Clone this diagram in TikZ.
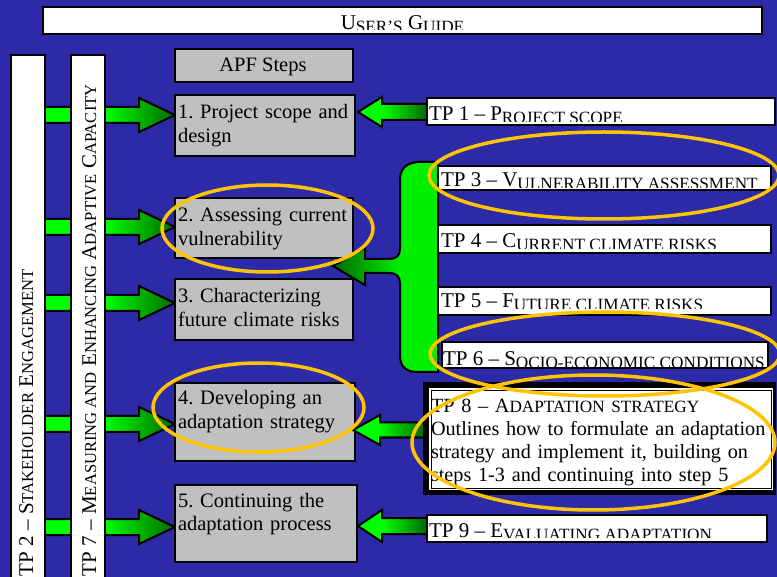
\documentclass[tikz,border=0pt]{standalone}
\usepackage{fontspec}
\setmainfont{Liberation Serif}
\definecolor{bg}{RGB}{44,42,166}
\definecolor{boxgray}{RGB}{192,192,192}
\definecolor{brightg}{RGB}{0,255,0}
\definecolor{bracketg}{RGB}{0,238,0}
\definecolor{darkg}{RGB}{0,105,0}
\definecolor{hlyellow}{RGB}{255,196,0}
\pgfdeclarehorizontalshading{larr}{100bp}{color(0bp)=(brightg); color(48bp)=(brightg); color(75bp)=(darkg); color(100bp)=(darkg)}
\pgfdeclarehorizontalshading{rarr}{100bp}{color(0bp)=(brightg); color(43bp)=(brightg); color(75bp)=(darkg); color(100bp)=(darkg)}
\pgfdeclarehorizontalshading{brk}{100bp}{color(0bp)=(darkg); color(25bp)=(darkg); color(57bp)=(bracketg); color(100bp)=(bracketg)}
\newcommand\smc[1]{{\fontsize{16.6}{20}\selectfont #1}}
\newcommand\smcb[1]{{\fontsize{17.2}{20}\selectfont #1}}
\newcommand\smcl[1]{\raisebox{-3pt}{\fontsize{17.2}{20}\selectfont #1}}
\newcommand\myLA[1]{\shadedraw[shading=larr, outl] (44,#1-8) -- (139,#1-8) -- (139,#1-17) -- (175,#1) -- (139,#1+17) -- (139,#1+8) -- (44,#1+8) -- cycle;}
\newcommand\myRA[6]{\shadedraw[shading=rarr, outl] (#1,#2) -- (#3,#2-#5) -- (#3,#2-#6) -- (#4,#2-#6) -- (#4,#2+#6) -- (#3,#2+#6) -- (#3,#2+#5) -- cycle;}
\begin{document}
\frenchspacing
\begin{tikzpicture}[x=1pt,y=-1pt,
  txt/.style={font=\fontsize{20.5}{24}\selectfont, inner sep=0pt, outer sep=0pt, text=black},
  bartxt/.style={font=\fontsize{21}{24}\selectfont, inner sep=0pt, outer sep=0pt, text=black},
  stepbox/.style={draw=black, line width=2pt, fill=boxgray, inner sep=0pt, outer sep=0pt},
  whitebox/.style={draw=black, line width=2pt, fill=white, inner sep=0pt, outer sep=0pt},
  outl/.style={draw=black, line width=2pt, line join=miter},
  hl/.style={draw=hlyellow, line width=3.5pt}]
\clip (0,0) rectangle (777,577);
\fill[bg] (0,0) rectangle (777,577);
% left arrows
\myLA{115}
\myLA{227}
\myLA{303}
\myLA{424}
\myLA{527}
% vertical bars
\node[whitebox, minimum width=34pt, minimum height=545pt] (bar2) at (28,327.5) {};
\node[whitebox, minimum width=34pt, minimum height=545pt] (bar7) at (88,327.5) {};
\node[bartxt, anchor=base west, rotate=90] (bar2t) at (33,576) {TP 2 – S\smc{TAKEHOLDER} E\smc{NGAGEMENT}};
\node[bartxt, anchor=base west, rotate=90] (bar7t) at (96,576) {TP 7 – M\smc{EASURING AND} E\smc{NHANCING} A\smc{DAPTIVE} C\smc{APACITY}};
% title
\node[whitebox, minimum width=719pt, minimum height=27pt] (title) at (402.5,20.5) {};
\begin{scope}
\clip (44,8) rectangle (761,30);
\node[bartxt, anchor=base] (titlet) at (402.5,29.5) {U\smcl{SER’S} G\smcl{UIDE}};
\end{scope}
% APF steps
\node[stepbox, minimum width=178pt, minimum height=33pt] (apf) at (264,65.5) {};
\node[txt, anchor=base] (apft) at (263,72) {APF Steps};
\node[stepbox, minimum width=180pt, minimum height=61pt] (s1) at (265,125.5) {};
\node[stepbox, minimum width=178pt, minimum height=60pt] (s2) at (264,228) {};
\node[stepbox, minimum width=178pt, minimum height=61pt] (s3) at (264,309.5) {};
\node[stepbox, minimum width=180pt, minimum height=78pt] (s4) at (265,422) {};
\node[stepbox, minimum width=182pt, minimum height=77pt] (s5) at (266,523.5) {};
\node[txt, anchor=base west, text width=190pt, align=left] (s1t) at (178,119) {1. Project scope and\\design};
\node[txt, anchor=base west, text width=190pt, align=left] (s2t) at (178,222) {2. Assessing current\\vulnerability};
\node[txt, anchor=base west, text width=190pt, align=left] (s3t) at (178,303) {3. Characterizing\\future climate risks};
\node[txt, anchor=base west, text width=190pt, align=left] (s4t) at (178,405) {4. Developing an\\adaptation strategy};
\node[txt, anchor=base west, text width=190pt, align=left] (s5t) at (178,507) {5. Continuing the\\adaptation process};
% right arrows
\myRA{358}{112}{382}{427}{15}{8}
\myRA{353}{430}{380}{424}{15}{7.5}
\myRA{358}{526}{382}{427}{16}{8}
% bracket arrow
\shadedraw[shading=brk, outl] (438,162) -- (418,162) .. controls (405,163) and (400,170) .. (400,180)
  -- (400,249) .. controls (400,256) and (396,259) .. (389,259) -- (365,259) -- (365,248) -- (333,266)
  -- (365,285) -- (365,273) -- (389,273) .. controls (396,273) and (400,276) .. (400,283)
  -- (400,355) .. controls (400,366) and (405,372) .. (418,372) -- (438,372) -- cycle;
% TP boxes
\node[whitebox, minimum width=348pt, minimum height=27pt] (tp1) at (601,111.5) {};
\node[whitebox, minimum width=333pt, minimum height=24pt] (tp3) at (604.5,178) {};
\node[whitebox, minimum width=333pt, minimum height=28pt] (tp4) at (604.5,239) {};
\node[whitebox, minimum width=333pt, minimum height=28pt] (tp5) at (604.5,301) {};
\node[whitebox, minimum width=326pt, minimum height=26pt] (tp6) at (605,355) {};
\node[whitebox, minimum width=340pt, minimum height=27pt] (tp9) at (597,528.5) {};
\begin{scope}
\clip (428,99) rectangle (774,121.5);
\node[bartxt, anchor=base west] (tp1t) at (429,121) {TP 1 – P\smcl{ROJECT SCOPE}};
\end{scope}
\begin{scope}
\clip (439,167) rectangle (770,187.5);
\node[bartxt, anchor=base west] (tp3t) at (441,187) {TP 3 – V\smcl{ULNERABILITY ASSESSMENT}};
\end{scope}
\begin{scope}
\clip (439,226) rectangle (770,248.5);
\node[bartxt, anchor=base west] (tp4t) at (441,248) {TP 4 – C\smcl{URRENT CLIMATE RISKS}};
\end{scope}
\begin{scope}
\clip (439,288) rectangle (770,308.5);
\node[bartxt, anchor=base west] (tp5t) at (441,308) {TP 5 – F\smcl{UTURE CLIMATE RISKS}};
\end{scope}
\begin{scope}
\clip (443,343) rectangle (767,366.5);
\node[bartxt, anchor=base west] (tp6t) at (443,366) {TP 6 – S\smcl{OCIO-ECONOMIC CONDITIONS}};
\end{scope}
\begin{scope}
\clip (428,516) rectangle (766,537.5);
\node[bartxt, anchor=base west] (tp9t) at (429,537) {TP 9 – E\smcl{VALUATING ADAPTATION}};
\end{scope}
% TP 8 frame
\node[fill=black, inner sep=0pt, outer sep=0pt, minimum width=353pt, minimum height=113pt] (tp8) at (599.5,438.5) {};
\fill[white] (429,388) rectangle (773,490);
\draw[black, line width=1pt] (431.5,390.5) rectangle (771,488);
\node[txt, anchor=base west, text width=400pt, align=left, font=\fontsize{20.2}{23}\selectfont] (tp8t) at (431,413)
  {TP 8 – A\smcb{DAPTATION STRATEGY}\\Outlines how to formulate an adaptation\\strategy and implement it, building on\\steps 1-3 and continuing into step 5};
% highlight ellipses
\draw[hl] (267.5,228.5) ellipse [x radius=105.5, y radius=43.5];
\draw[hl] (258.5,407.5) ellipse [x radius=105.5, y radius=44.5];
\draw[hl] (604,175.5) ellipse [x radius=175, y radius=43.5];
\draw[hl] (605,354) ellipse [x radius=175, y radius=42];
\draw[hl] (593.5,442.5) ellipse [x radius=181.5, y radius=67.5];
\end{tikzpicture}
\end{document}
